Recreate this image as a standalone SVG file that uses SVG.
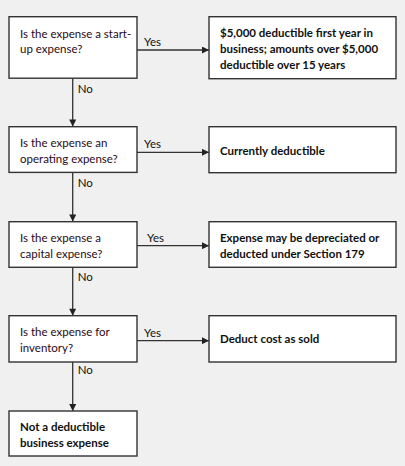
<svg xmlns="http://www.w3.org/2000/svg" width="405" height="466" viewBox="0 0 405 466">
<style>
.box{fill:#fff;stroke:#333;stroke-width:1.4}
.q{font-family:Lato,"Liberation Sans",sans-serif;font-size:11.5px;fill:#2a0a20}
.a{font-family:Lato,"Liberation Sans",sans-serif;font-size:11.5px;font-weight:bold;fill:#111}
.lbl{font-family:Lato,"Liberation Sans",sans-serif;font-size:11.5px;fill:#111}
.c{stroke:#333;stroke-width:1.3;fill:none;marker-end:url(#ah)}
</style>
<defs>
<marker id="ah" viewBox="0 0 10 10" refX="10" refY="5" markerUnits="userSpaceOnUse" markerWidth="9" markerHeight="7" orient="auto">
<path d="M0,0 L10,5 L0,10 z" fill="#222"/>
</marker>
</defs>
<rect width="405" height="466" fill="#f0f0f0"/>
<g id="connectors">
<line class="c" x1="137" y1="50" x2="209" y2="50"/>
<line class="c" x1="137" y1="152.3" x2="209" y2="152.3"/>
<line class="c" x1="137" y1="245.7" x2="209" y2="245.7"/>
<line class="c" x1="137" y1="340.7" x2="209" y2="340.7"/>
<line class="c" x1="72.7" y1="78" x2="72.7" y2="126.5"/>
<line class="c" x1="72.7" y1="172.5" x2="72.7" y2="221.5"/>
<line class="c" x1="72.7" y1="267.5" x2="72.7" y2="315.7"/>
<line class="c" x1="72.7" y1="362" x2="72.7" y2="411"/>
<text class="lbl" x="144" y="46">Yes</text>
<text class="lbl" x="144" y="148.3">Yes</text>
<text class="lbl" x="147" y="241.7">Yes</text>
<text class="lbl" x="144" y="337.3">Yes</text>
<text class="lbl" x="77.7" y="93">No</text>
<text class="lbl" x="77.7" y="187.3">No</text>
<text class="lbl" x="77.7" y="280.7">No</text>
<text class="lbl" x="77.7" y="374">No</text>
</g>
<g id="q1"><rect class="box" x="9" y="16.7" width="128" height="61.5"/>
<text class="q" x="20" y="37.5">Is the expense a start-</text>
<text class="q" x="20" y="53">up expense?</text></g>
<g id="a1"><rect class="box" x="209" y="16.7" width="187" height="62"/>
<text class="a" x="220" y="37.3">$5,000 deductible first year in</text>
<text class="a" x="220" y="53">business; amounts over $5,000</text>
<text class="a" x="220" y="68.5">deductible over 15 years</text></g>
<g id="q2"><rect class="box" x="9" y="126.7" width="128" height="45.7"/>
<text class="q" x="20" y="147.3">Is the expense an</text>
<text class="q" x="20" y="163.3">operating expense?</text></g>
<g id="a2"><rect class="box" x="209" y="126.7" width="187" height="46"/>
<text class="a" x="220" y="155">Currently deductible</text></g>
<g id="q3"><rect class="box" x="9" y="221.7" width="128" height="45.6"/>
<text class="q" x="20" y="242.3">Is the expense a</text>
<text class="q" x="20" y="257.7">capital expense?</text></g>
<g id="a3"><rect class="box" x="209" y="221.7" width="187" height="45.6"/>
<text class="a" x="220" y="242.3">Expense may be depreciated or</text>
<text class="a" x="220" y="257.5">deducted under Section 179</text></g>
<g id="q4"><rect class="box" x="9" y="315.7" width="128" height="46.3"/>
<text class="q" x="20" y="336">Is the expense for</text>
<text class="q" x="20" y="351.7">inventory?</text></g>
<g id="a4"><rect class="box" x="209" y="315.7" width="187" height="46.3"/>
<text class="a" x="220" y="343.3">Deduct cost as sold</text></g>
<g id="end"><rect class="box" x="9" y="411" width="128" height="45"/>
<text class="a" x="20" y="431">Not a deductible</text>
<text class="a" x="20" y="446.7">business expense</text></g>
</svg>
